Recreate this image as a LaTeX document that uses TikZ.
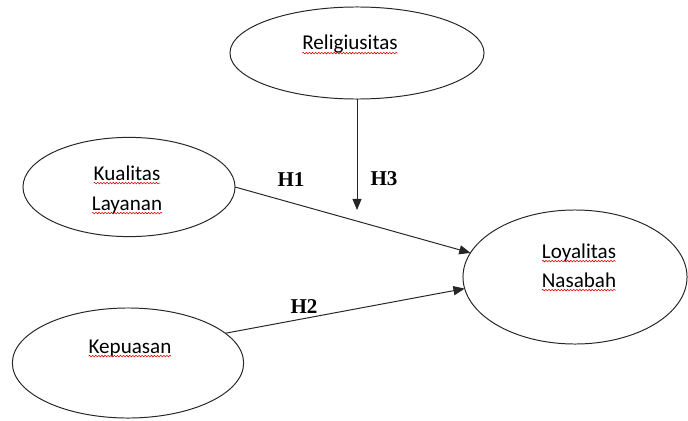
\documentclass[tikz,border=0pt]{standalone}
\usepackage{fontspec}
\setmainfont{Carlito}
\newfontfamily\hfont{Liberation Serif}
\usetikzlibrary{shapes,arrows.meta,positioning,calc,decorations.pathmorphing}

\begin{document}
\begin{tikzpicture}[x=0.025cm, y=-0.025cm, outer sep=0pt,
    var/.style={ellipse, draw=black!85, line width=0.7pt, inner sep=0pt},
    txt/.style={inner sep=0pt, anchor=base, font=\fontsize{15}{18}\selectfont},
    hyp/.style={inner sep=0pt, font=\hfont\bfseries\fontsize{15}{18}\selectfont},
    link/.style={draw=black!85, line width=0.7pt, -{Triangle[length=8pt, width=6.5pt]}},
    wavy/.style={draw=red!85!black, line width=0.4pt, decorate, decoration={snake, segment length=2.2pt, amplitude=0.55pt}}]
    \useasboundingbox (0,0) rectangle (688,420);

    % variables
    \node [var, minimum width=6.35cm, minimum height=2.3cm] (relig) at (357,53) {};
    \node [var, minimum width=5.3cm, minimum height=2.48cm] (kual) at (129,187) {};
    \node [var, minimum width=5.6cm, minimum height=3.35cm] (loyal) at (575,277) {};
    \node [var, minimum width=5.78cm, minimum height=2.75cm] (kep) at (128,363) {};

    % texts
    \node [txt] (religtxt) at (350,50) {Religiusitas};
    \node [txt] (kualtxt) at (127,180) {Kualitas};
    \node [txt] (layantxt) at (127,210) {Layanan};
    \node [txt] (loyaltxt) at (579,258) {Loyalitas};
    \node [txt] (nasabtxt) at (579,287) {Nasabah};
    \node [txt] (keptxt) at (130,353) {Kepuasan};
    \foreach \t in {religtxt, kualtxt, layantxt, loyaltxt, nasabtxt, keptxt}
        \draw [wavy] ([yshift=-2.2pt]\t.base west) -- ([yshift=-2.2pt]\t.base east);

    % hypotheses
    \coordinate (h3end) at (357,210);
    \draw [link] (kual.east) -- (loyal.167);
    \draw [link] (kep.17) -- (loyal.186);
    \draw [link] (relig.south) -- (h3end);
    \node [hyp] (h1) at (291,180) {H1};
    \node [hyp] (h2) at (304,307) {H2};
    \node [hyp] (h3) at (384,179) {H3};
\end{tikzpicture}
\end{document}
